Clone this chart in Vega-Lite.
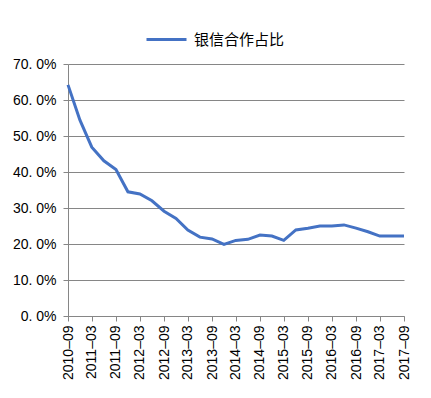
{
  "$schema": "https://vega.github.io/schema/vega-lite/v6.json",
  "autosize": "none",
  "width": 336,
  "height": 252,
  "padding": {"left": 68, "top": 64, "right": 27, "bottom": 82},
  "background": "white",
  "config": {"view": {"stroke": null}, "font": "Liberation Sans"},
  "data": {"values": [
    {"date": "2010-09-01", "v": 0.642},
    {"date": "2010-12-01", "v": 0.544},
    {"date": "2011-03-01", "v": 0.469},
    {"date": "2011-06-01", "v": 0.431},
    {"date": "2011-09-01", "v": 0.407},
    {"date": "2011-12-01", "v": 0.345},
    {"date": "2012-03-01", "v": 0.339},
    {"date": "2012-06-01", "v": 0.320},
    {"date": "2012-09-01", "v": 0.291},
    {"date": "2012-12-01", "v": 0.271},
    {"date": "2013-03-01", "v": 0.239},
    {"date": "2013-06-01", "v": 0.219},
    {"date": "2013-09-01", "v": 0.214},
    {"date": "2013-12-01", "v": 0.199},
    {"date": "2014-03-01", "v": 0.210},
    {"date": "2014-06-01", "v": 0.213},
    {"date": "2014-09-01", "v": 0.225},
    {"date": "2014-12-01", "v": 0.222},
    {"date": "2015-03-01", "v": 0.210},
    {"date": "2015-06-01", "v": 0.239},
    {"date": "2015-09-01", "v": 0.244},
    {"date": "2015-12-01", "v": 0.250},
    {"date": "2016-03-01", "v": 0.250},
    {"date": "2016-06-01", "v": 0.253},
    {"date": "2016-09-01", "v": 0.244},
    {"date": "2016-12-01", "v": 0.234},
    {"date": "2017-03-01", "v": 0.222},
    {"date": "2017-06-01", "v": 0.222},
    {"date": "2017-09-01", "v": 0.222}
  ]},
  "mark": {"type": "line", "strokeWidth": 3, "interpolate": "linear"},
  "encoding": {
    "x": {
      "field": "date", "type": "temporal",
      "scale": {"domain": [{"year": 2010, "month": 9, "date": 1}, {"year": 2017, "month": 9, "date": 1}], "nice": false},
      "axis": {
        "title": null, "grid": false,
        "values": [
          {"year": 2010, "month": 9, "date": 1}, {"year": 2011, "month": 3, "date": 1},
          {"year": 2011, "month": 9, "date": 1}, {"year": 2012, "month": 3, "date": 1},
          {"year": 2012, "month": 9, "date": 1}, {"year": 2013, "month": 3, "date": 1},
          {"year": 2013, "month": 9, "date": 1}, {"year": 2014, "month": 3, "date": 1},
          {"year": 2014, "month": 9, "date": 1}, {"year": 2015, "month": 3, "date": 1},
          {"year": 2015, "month": 9, "date": 1}, {"year": 2016, "month": 3, "date": 1},
          {"year": 2016, "month": 9, "date": 1}, {"year": 2017, "month": 3, "date": 1},
          {"year": 2017, "month": 9, "date": 1}
        ],
        "labelExpr": "timeFormat(datum.value, '%Y–%m')",
        "labelAngle": -90, "labelAlign": "right", "labelBaseline": "middle",
        "labelFontSize": 14, "labelColor": "#000000", "labelPadding": 4,
        "labelFlush": false, "labelOverlap": false,
        "domainColor": "#868686", "tickColor": "#868686", "tickSize": 5
      }
    },
    "y": {
      "field": "v", "type": "quantitative",
      "scale": {"domain": [0, 0.7], "nice": false},
      "axis": {
        "title": null,
        "values": [0, 0.1, 0.2, 0.3, 0.4, 0.5, 0.6, 0.7],
        "labelExpr": "replace(format(datum.value, '.1%'), '.', '. ')",
        "labelFontSize": 14, "labelColor": "#000000", "labelPadding": 7,
        "domainColor": "#868686", "tickColor": "#868686", "tickSize": 5,
        "gridColor": "#868686", "gridOpacity": 1
      }
    },
    "color": {
      "datum": "银信合作占比",
      "scale": {"range": ["#4472C4"]},
      "legend": {
        "title": null, "orient": "none", "legendX": 77, "legendY": -46,
        "symbolType": "stroke", "symbolSize": 1600, "symbolStrokeWidth": 3,
        "labelFont": "Noto Sans CJK SC", "labelFontSize": 15, "labelColor": "#000000",
        "labelOffset": 6
      }
    }
  }
}
